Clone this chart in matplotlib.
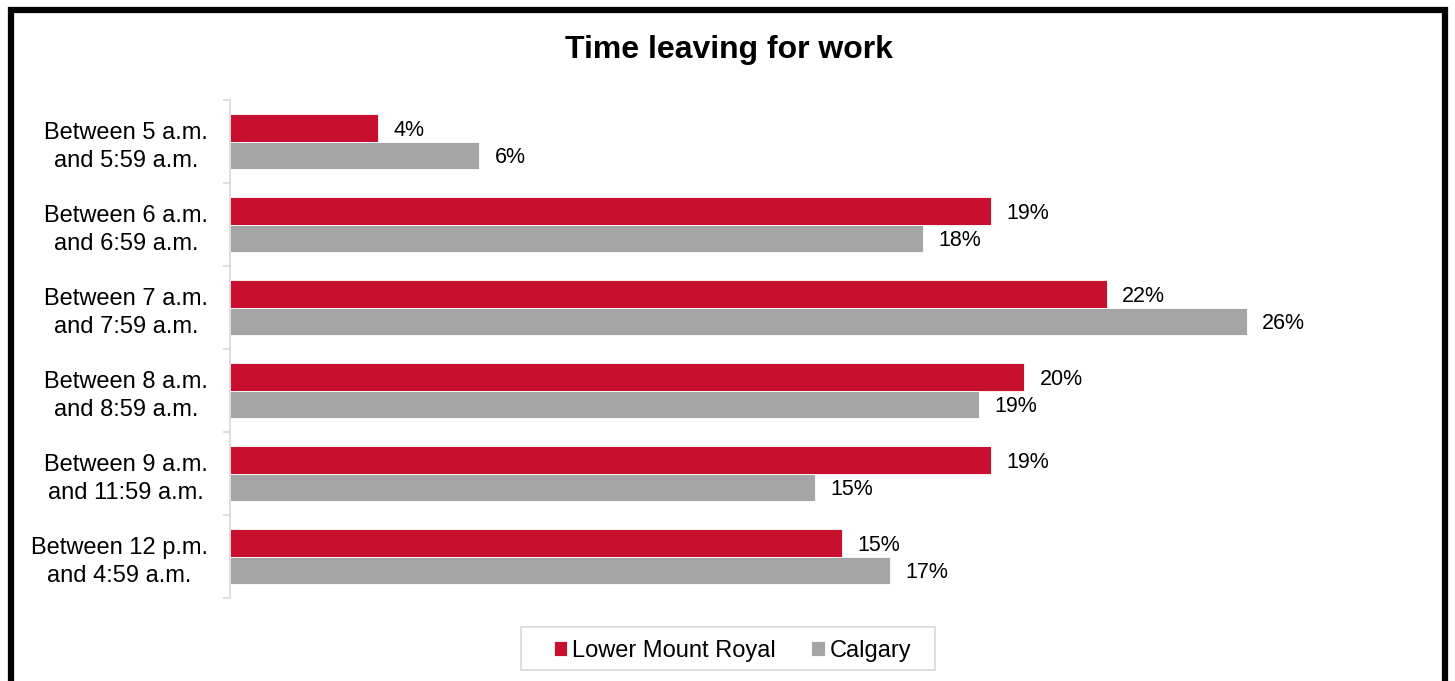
import matplotlib
matplotlib.use("Agg")
import matplotlib.pyplot as plt
from matplotlib.patches import Rectangle
import numpy as np

plt.rcParams['font.family'] = ['Liberation Sans', 'DejaVu Sans']

categories = ["Between 5 a.m.\nand 5:59 a.m.",
              "Between 6 a.m.\nand 6:59 a.m.",
              "Between 7 a.m.\nand 7:59 a.m.",
              "Between 8 a.m.\nand 8:59 a.m.",
              "Between 9 a.m.\nand 11:59 a.m.",
              "Between 12 p.m.\nand 4:59 a.m."]
lower_mount_royal = [3.74, 19.24, 22.17, 20.08, 19.24, 15.47]
calgary = [6.30, 17.52, 25.71, 18.94, 14.79, 16.69]
series_names = ["Lower Mount Royal", "Calgary"]
colors = ["#C8102E", "#A5A5A5"]

W, H = 1455, 681
fig = plt.figure(figsize=(W / 100, H / 100), dpi=100)

# outer black frame
fig.patches.append(Rectangle((10.5 / W, -0.05), (1445 - 10.5) / W, (H - 10.5) / H + 0.05,
                             transform=fig.transFigure, fill=False,
                             edgecolor="black", linewidth=4.5, zorder=0))

ax = fig.add_axes([230 / W, 1 - 598 / H, (1416.5 - 230) / W, (598 - 100) / H])
y = np.arange(len(categories))
bh = 0.337
b1 = ax.barh(y - bh / 2, lower_mount_royal, height=bh, color=colors[0],
             edgecolor="white", linewidth=0.6, label=series_names[0])
b2 = ax.barh(y + bh / 2, calgary, height=bh, color=colors[1],
             edgecolor="white", linewidth=0.6, label=series_names[1])
for bars, vals in ((b1, lower_mount_royal), (b2, calgary)):
    for rect, v in zip(bars, vals):
        ax.annotate(f"{v:.0f}%", (v, rect.get_y() + rect.get_height() / 2),
                    xytext=(11, 0), textcoords="offset points",
                    va="center_baseline", ha="left", fontsize=15.5, color="black")

ax.set_xlim(0, 30)
ax.set_ylim(len(categories) - 0.5, -0.5)
ax.set_yticks(y)
ax.set_yticklabels(categories, fontsize=17, multialignment="center", linespacing=1.35,
                   va="center_baseline")
ax.set_yticks(np.arange(-0.5, len(categories)), minor=True)
ax.tick_params(axis="y", which="major", length=0, pad=16)
ax.tick_params(axis="y", which="minor", length=5, color="#D9D9D9", width=1.2)
ax.set_xticks([])
for s in ("top", "right", "bottom"):
    ax.spines[s].set_visible(False)
ax.spines["left"].set_color("#D9D9D9")
ax.spines["left"].set_linewidth(1.2)

fig.text(729 / W, 1 - 50 / H, "Time leaving for work", ha="center", va="center",
         fontsize=23, fontweight="bold")

# legend frame
fig.patches.append(Rectangle((521 / W, 1 - 670 / H), (935 - 521) / W, (670 - 627) / H,
                             transform=fig.transFigure, fill=False,
                             edgecolor="#D9D9D9", linewidth=1.2, zorder=1))
leg = fig.legend(loc="center", bbox_to_anchor=(732.5 / W, 1 - 651 / H), ncol=2,
                 fontsize=17, frameon=False,
                 handlelength=0.58, handleheight=0.58, handletextpad=0.2,
                 columnspacing=1.5, borderpad=0.0, borderaxespad=0)

fig.savefig("out.png", dpi=100)
